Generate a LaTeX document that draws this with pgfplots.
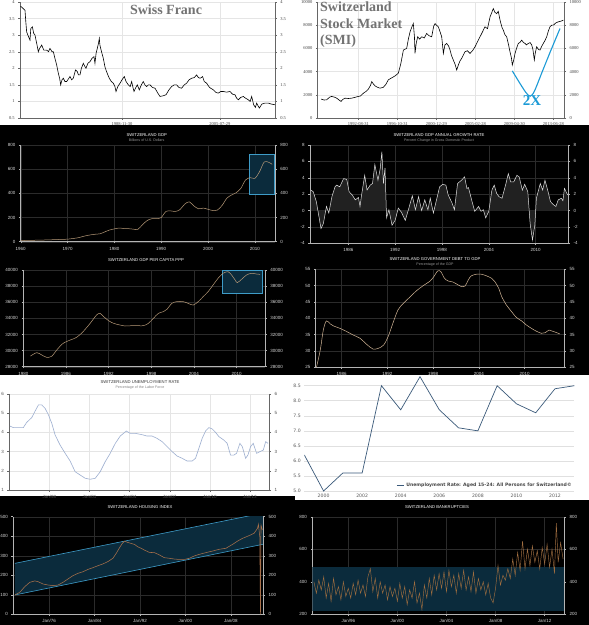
\documentclass[border=0pt]{standalone}
\usepackage{pgfplots}
\usepackage{pgfplotstable}
\pgfplotsset{compat=1.18}
\usepackage{fontspec}
\setmainfont{Liberation Sans}
\newfontfamily\serifx{Liberation Serif}
\newfontfamily\dejavu{DejaVu Sans}

\definecolor{gridd}{HTML}{2B2B2B}
\definecolor{axd}{HTML}{B4B4B4}
\definecolor{tanl}{HTML}{B89A78}
\definecolor{debtl}{HTML}{D4B898}
\definecolor{boxfill}{HTML}{0B2B3C}
\definecolor{boxline}{HTML}{3E9CC8}
\definecolor{smiblue}{HTML}{1B9AD6}
\definecolor{unemp}{HTML}{9DAFD0}
\definecolor{youth}{HTML}{3B5A7A}
\definecolor{housing}{HTML}{A8704A}
\definecolor{bankr}{HTML}{A06E40}

\pgfplotsset{
 base/.style={scale only axis, anchor=south west,
   /pgf/number format/assume math mode=true, /pgf/number format/1000 sep={},
   tick align=outside, major tick length=1.8pt, clip=true,
   axis x line*=bottom, axis y line*=left, scaled ticks=false},
 dark/.style={base, axis line style={draw=axd, line width=0.5pt},
   tick style={draw=axd, line width=0.4pt},
   xmajorgrids, ymajorgrids, grid style={draw=gridd, line width=0.35pt},
   ticklabel style={font=\fontsize{4.5}{5}\selectfont, text=white!85!black}},
 darkR/.style={dark, hide x axis, axis y line*=right, xmajorgrids=false, ymajorgrids=false},
 light/.style={base, axis line style={draw=black!60, line width=0.5pt},
   tick style={draw=black!60, line width=0.4pt},
   xmajorgrids, ymajorgrids, grid style={draw=black!10, line width=0.35pt},
   ticklabel style={font=\serifx\fontsize{4.5}{5}\selectfont, text=black!75}},
 lightR/.style={light, hide x axis, axis y line*=right, xmajorgrids=false, ymajorgrids=false},
}

% ---------- Swiss franc (USD/CHF) ----------
\pgfplotstableread{
x y
1971.67 3.87
1972.0 3.82
1972.41 3.75
1972.55 3.4
1972.69 3.1
1972.9 3.0
1973.26 2.85
1973.4 3.2
1973.66 3.25
1973.9 3.05
1974.11 3.0
1974.4 2.75
1974.68 2.5
1974.9 2.6
1975.25 2.7
1975.6 2.55
1976.10 2.55
1976.4 2.5
1976.66 2.6
1977.0 2.5
1977.23 2.5
1977.5 2.3
1977.80 2.1
1978.08 1.85
1978.3 1.7
1978.48 1.5
1978.7 1.65
1978.93 1.7
1979.2 1.6
1979.50 1.6
1979.8 1.68
1980.06 1.75
1980.35 1.65
1980.63 1.7
1981.0 1.95
1981.31 1.9
1981.5 1.8
1981.76 1.8
1982.0 2.0
1982.33 2.15
1982.6 2.05
1982.78 2.0
1983.1 2.15
1983.46 2.2
1983.8 2.3
1984.14 2.35
1984.31 2.15
1984.5 2.45
1984.71 2.6
1984.9 2.75
1985.05 2.9
1985.15 2.7
1985.28 2.6
1985.5 2.45
1985.73 2.3
1986.0 2.05
1986.18 1.95
1986.5 1.8
1986.75 1.7
1987.1 1.6
1987.43 1.55
1987.7 1.45
1987.89 1.3
1988.2 1.45
1988.57 1.55
1988.9 1.65
1989.30 1.75
1989.6 1.6
1989.98 1.5
1990.3 1.45
1990.55 1.6
1990.8 1.4
1990.95 1.3
1991.2 1.4
1991.51 1.5
1991.85 1.35
1992.2 1.5
1992.53 1.6
1992.8 1.5
1993.10 1.45
1993.4 1.5
1993.67 1.5
1994.1 1.42
1994.52 1.4
1995.0 1.25
1995.37 1.15
1995.9 1.17
1996.39 1.2
1996.9 1.35
1997.35 1.45
1997.8 1.5
1998.20 1.5
1998.6 1.42
1999.05 1.4
1999.5 1.5
1999.90 1.55
2000.3 1.65
2000.75 1.7
2001.2 1.72
2001.60 1.8
2001.9 1.72
2002.17 1.7
2002.4 1.72
2002.62 1.75
2002.9 1.6
2003.30 1.55
2003.8 1.42
2004.43 1.35
2004.9 1.27
2005.29 1.25
2005.7 1.3
2006.14 1.3
2006.7 1.28
2007.27 1.3
2007.7 1.22
2008.12 1.2
2008.4 1.1
2008.69 1.05
2009.1 1.12
2009.54 1.15
2009.9 1.1
2010.39 1.05
2010.7 1.0
2010.96 1.15
2011.3 0.9
2011.6 0.82
2011.81 0.95
2012.1 0.85
2012.26 0.8
2012.7 0.92
2013.23 0.95
2013.79 0.95
2014.3 0.92
2014.93 0.9
}\franc

% ---------- SMI ----------
\pgfplotstableread{
x y
1988.68 1630
1989.0 1550
1989.28 1570
1989.6 1800
1989.81 1860
1990.1 1800
1990.35 1710
1990.6 1550
1990.81 1430
1991.0 1600
1991.24 1710
1991.6 1680
1991.95 1710
1992.3 1780
1992.66 1860
1992.9 1900
1993.20 2140
1993.5 2300
1993.73 2490
1993.95 2800
1994.09 3140
1994.25 2950
1994.44 2770
1994.7 2650
1994.97 2570
1995.33 2650
1995.6 2900
1995.86 3290
1996.2 3450
1996.58 3630
1996.93 3860
1997.2 4700
1997.47 5860
1997.82 6000
1998.0 6800
1998.18 7430
1998.4 7900
1998.53 8140
1998.65 7000
1998.71 5570
1998.85 6500
1999.00 7000
1999.2 6800
1999.42 7000
1999.7 6900
1999.96 7290
2000.2 7100
2000.49 7000
2000.7 7900
2000.85 8140
2001.0 8000
2001.20 7860
2001.4 7400
2001.56 7000
2001.74 5570
2001.9 6300
2002.09 6430
2002.3 6200
2002.45 5860
2002.6 5400
2002.80 5000
2003.0 4600
2003.16 4140
2003.34 4570
2003.5 4900
2003.69 5140
2004.05 5710
2004.3 5800
2004.58 5570
2004.85 5800
2005.12 6140
2005.4 6600
2005.65 7000
2005.9 7400
2006.18 7860
2006.45 7700
2006.72 8710
2007.07 9430
2007.25 9100
2007.43 9000
2007.6 9200
2007.79 8430
2008.0 7800
2008.14 7570
2008.3 7200
2008.50 7000
2008.7 6300
2008.85 5710
2009.0 5200
2009.10 4570
2009.25 5000
2009.39 5570
2009.55 6000
2009.74 6430
2009.9 6500
2010.10 6710
2010.3 6500
2010.46 6430
2010.6 6300
2010.81 6430
2011.0 6500
2011.17 6300
2011.3 5900
2011.45 5000
2011.55 5600
2011.70 6140
2011.9 5900
2012.06 5860
2012.25 6200
2012.41 6430
2012.6 6700
2012.77 7000
2012.95 7500
2013.12 7860
2013.3 8000
2013.48 8000
2013.75 8200
2014.01 8290
2014.3 8350
2014.55 8430
}\smi

% ---------- GDP ----------
\pgfplotstableread{
x y
1960 9
1962 11
1965 14
1968 18
1970 21
1972 31
1973 40
1974 50
1975 57
1976 62
1977 66
1978 82
1979 97
1980 106
1981 113
1982 109
1983 108
1984 104
1985 102
1986 140
1987 175
1988 190
1989 190
1990 200
1991 250
1992 255
1993 250
1994 265
1995 310
1996 330
1997 295
1998 272
1999 278
2000 268
2001 258
2002 262
2003 300
2004 359
2005 386
2006 405
2007 441
2008 510
2009 530
2010 524
2011 579
2012 660
2013 656
2013.7 640
}\gdp

% ---------- GDP growth ----------
\pgfplotstableread{
x y
1981.2 2.5
1981.5 2.3
1981.9 1.1
1982.5 -2.2
1982.8 -1.6
1983.2 0.5
1983.5 -0.3
1983.9 1.7
1984.3 2.9
1984.5 3.1
1984.9 2.9
1985.4 3.9
1985.8 3.8
1986.1 2.3
1986.5 1.9
1986.9 1.3
1987.3 1.6
1987.5 0.5
1987.7 1.9
1988.1 4.3
1988.4 2.5
1988.8 3.1
1989.1 3.3
1989.4 5.6
1989.8 3.7
1990.1 5.2
1990.3 7.2
1990.5 3.3
1990.7 5.2
1990.9 -0.9
1991.2 0.1
1991.6 -1.8
1992.0 -1.2
1992.4 0.3
1992.8 -0.2
1993.3 -1.2
1993.7 0.1
1994.2 1.8
1994.6 0.1
1995.0 1.7
1995.4 0.0
1995.8 1.3
1996.2 0.1
1996.5 1.5
1996.9 -0.3
1997.3 1.3
1997.7 2.9
1998.1 3.2
1998.5 3.1
1998.8 1.9
1999.3 0.9
1999.6 0.1
2000.0 3.3
2000.5 3.7
2000.9 4.1
2001.2 2.7
2001.4 2.8
2001.8 1.3
2002.2 -0.1
2002.7 0.5
2003.0 -0.1
2003.3 0.1
2003.6 -0.9
2004.0 -0.1
2004.4 2.5
2004.7 3.1
2005.0 2.1
2005.3 1.7
2005.7 1.5
2006.2 3.3
2006.5 4.5
2006.8 3.5
2007.2 3.5
2007.6 4.3
2007.9 4.1
2008.3 2.5
2008.6 3.2
2009.0 2.3
2009.3 -1.6
2009.6 -3.6
2009.9 -1.8
2010.1 1.5
2010.6 3.3
2010.9 2.5
2011.2 3.7
2011.6 2.3
2011.9 1.1
2012.3 0.7
2012.6 0.5
2012.9 1.3
2013.3 1.5
2013.5 1.2
2013.7 2.7
2014.1 1.9
}\growth

% ---------- GDP per capita PPP ----------
\pgfplotstableread{
x y
1981.0 29320
1981.9 29740
1982.6 29450
1983.3 29160
1984.0 29300
1984.7 30070
1985.6 30900
1986.6 31310
1987.5 31640
1988.4 32340
1989.4 33380
1990.3 34410
1990.8 34620
1991.3 34210
1992.0 33710
1992.7 33380
1993.6 33170
1994.3 33050
1995.2 33090
1996.2 33090
1996.9 33090
1997.6 33380
1998.3 34000
1999.0 34620
1999.7 34830
2000.2 35120
2000.9 35860
2001.6 36070
2002.5 36070
2003.2 35860
2003.9 35650
2004.6 36070
2005.3 36690
2006.0 37310
2006.7 38140
2007.4 38970
2008.1 39590
2008.8 39790
2009.3 39380
2009.8 38760
2010.1 38430
2010.7 38840
2011.4 39380
2012.1 39590
2012.8 39500
2013.3 39460
}\gdppc

% ---------- Debt to GDP ----------
\pgfplotstableread{
x y
1982.7 25.0
1983.2 30.3
1983.6 36.4
1984.0 39.2
1984.5 38.3
1984.9 37.7
1985.8 36.9
1986.7 35.9
1987.5 34.9
1988.4 33.9
1989.3 32.0
1990.1 30.6
1990.8 30.8
1991.5 31.8
1992.1 34.4
1992.8 39.0
1993.4 42.6
1994.1 44.6
1995.0 46.6
1995.8 48.4
1996.7 50.0
1997.6 51.4
1998.1 52.8
1998.6 54.5
1999.0 54.3
1999.5 52.2
2000.0 51.4
2000.6 51.1
2001.3 50.2
2001.7 49.7
2002.2 49.9
2002.6 51.7
2003.0 53.0
2003.7 53.5
2004.3 53.5
2005.0 53.0
2005.7 52.2
2006.1 51.2
2006.6 49.2
2007.0 46.6
2007.6 44.1
2008.3 42.0
2008.9 40.3
2009.6 39.2
2010.2 38.0
2010.9 36.9
2011.5 36.1
2012.2 35.4
2012.7 35.6
2013.2 36.4
2013.6 36.1
2014.2 35.6
2014.6 35.2
}\debt

% ---------- Unemployment ----------
\pgfplotstableread{
x y
1995.05 4.33
1995.3 4.25
1995.55 4.25
1996.05 4.25
1996.3 4.52
1996.68 4.77
1996.93 5.11
1997.18 5.43
1997.43 5.43
1997.68 5.25
1997.93 4.91
1998.18 4.47
1998.43 3.86
1998.8 3.34
1999.18 2.91
1999.55 2.51
1999.93 1.95
2000.3 1.78
2000.68 1.61
2001.05 1.56
2001.43 1.61
2001.8 1.95
2002.18 2.48
2002.55 2.91
2002.93 3.43
2003.3 3.81
2003.75 4.07
2004.05 3.95
2004.43 3.95
2004.8 3.90
2005.05 3.86
2005.3 3.81
2005.68 3.81
2006.05 3.69
2006.43 3.52
2006.8 3.26
2007.18 3.0
2007.55 2.77
2007.93 2.65
2008.3 2.51
2008.68 2.51
2008.93 2.65
2009.18 3.17
2009.43 3.69
2009.68 4.07
2009.93 4.25
2010.18 4.18
2010.43 4.0
2010.68 3.78
2011.05 3.6
2011.3 3.43
2011.55 2.82
2011.8 2.82
2012.0 2.91
2012.25 3.43
2012.43 3.26
2012.68 2.65
2012.85 2.82
2013.05 3.26
2013.25 3.43
2013.5 2.91
2013.75 3.0
2014.0 3.08
2014.18 3.52
2014.35 3.43
}\unemp

% ---------- Youth unemployment ----------
\pgfplotstableread{
x y
1999 6.2
2000 5.0
2001 5.6
2002 5.6
2003 8.5
2004 7.7
2005 8.8
2006 7.7
2007 7.1
2008 7.0
2009 8.5
2010 7.9
2011 7.6
2012 8.4
2013 8.5
}\youthdata

% ---------- Housing index ----------
\pgfplotstableread{
x y
1969.98 99
1970.85 113
1971.73 142
1972.61 164
1973.49 171
1974.07 167
1974.95 155
1975.82 150
1976.70 147
1977.58 150
1978.46 164
1979.33 181
1980.21 198
1981.09 210
1981.96 218
1982.84 230
1983.72 239
1984.60 249
1985.47 258
1986.35 270
1987.23 287
1987.81 312
1988.40 341
1988.87 363
1989.27 375
1989.86 368
1990.44 363
1991.03 358
1991.61 346
1992.20 338
1992.78 329
1993.66 317
1994.54 316
1995.42 304
1996.29 290
1997.17 287
1998.05 283
1998.92 281
1999.80 281
2000.68 287
2001.56 299
2002.43 307
2003.60 316
2004.77 324
2005.94 333
2007.11 338
2008.28 358
2009.16 375
2010.04 389
2011.20 403
2012.08 415
2012.67 440
2012.84 461
2013.08 398
2013.20 0
2013.30 457
2013.54 432
}\housing

% ---------- Bankruptcies ----------
\pgfplotstableread{
x y
1993.2 400
1993.4 330
1993.6 410
1993.8 350
1994.0 430
1994.2 300
1994.4 390
1994.6 280
1994.8 420
1995.0 320
1995.2 370
1995.4 290
1995.6 400
1995.8 310
1996.0 360
1996.2 300
1996.4 390
1996.6 320
1996.8 410
1997.0 330
1997.2 380
1997.4 310
1997.6 430
1997.8 480
1998.0 340
1998.2 420
1998.4 300
1998.6 400
1998.8 330
1999.0 380
1999.2 290
1999.4 370
1999.6 310
1999.8 360
2000.0 280
2000.2 390
2000.4 300
2000.6 370
2000.8 260
2001.0 350
2001.2 300
2001.4 400
2001.6 270
2001.8 330
2002.0 230
2002.2 380
2002.4 300
2002.6 420
2002.8 320
2003.0 440
2003.2 350
2003.4 450
2003.6 360
2003.8 460
2004.0 340
2004.2 470
2004.4 370
2004.6 440
2004.8 330
2005.0 450
2005.2 360
2005.4 470
2005.6 350
2005.8 430
2006.0 340
2006.2 460
2006.4 330
2006.6 420
2006.8 350
2007.0 400
2007.2 320
2007.4 390
2007.6 300
2007.8 270
2008.0 360
2008.2 500
2008.4 380
2008.6 440
2008.8 410
2009.0 480
2009.2 420
2009.4 540
2009.6 440
2009.8 580
2010.0 470
2010.2 650
2010.4 480
2010.6 600
2010.8 500
2011.0 620
2011.2 520
2011.4 590
2011.6 480
2011.8 610
2012.0 510
2012.2 630
2012.4 490
2012.6 600
2012.8 450
2012.95 760
2013.1 520
2013.3 640
2013.5 540
}\bankr

\begin{document}
\begin{tikzpicture}[x=1pt,y=1pt]
% backgrounds
\fill[black] (0,0) rectangle (589,625);
\fill[white] (0,500) rectangle (589,625);
\fill[white] (0,129) rectangle (295,250);
\fill[white] (295,125) rectangle (589,250);

% ===== Row 1 left: Swiss Franc =====
\begin{axis}[light, at={(20pt,507pt)}, width=255pt, height=116pt,
  xticklabel style={yshift=1.2pt},
  xmin=1971.56, xmax=2014.93, ymin=0.5, ymax=4,
  ytick={0.5,1,1.5,2,2.5,3,3.5,4},
  xtick={1988.91,2005.57}, xticklabels={1988-11-30,2005-07-29}]
\addplot[black, line width=0.6pt] table {\franc};
\end{axis}
\begin{axis}[lightR, at={(20pt,507pt)}, width=255pt, height=116pt,
  xmin=1971.56, xmax=2014.93, ymin=0.5, ymax=4,
  ytick={0.5,1,1.5,2,2.5,3,3.5,4}]
\end{axis}
\node[font=\serifx\bfseries\fontsize{14}{14}\selectfont, text=black!55] at (166,615.5) {Swiss Franc};

% ===== Row 1 right: SMI =====
\begin{axis}[light, at={(317.7pt,507pt)}, width=246.6pt, height=116pt,
  xticklabel style={yshift=1.2pt},
  xmin=1988.32, xmax=2014.65, ymin=0, ymax=10000,
  ytick={0,2000,4000,6000,8000,10000},
  xtick={1992.66,1996.83,2000.99,2005.16,2009.33,2013.49},
  xticklabels={1992-08-31,1996-10-31,2000-12-29,2005-02-28,2009-04-30,2013-06-28}]
\addplot[black, line width=0.6pt] table {\smi};
\addplot[smiblue, line width=1.1pt, smooth] coordinates {(2009.10,4060) (2009.9,3000) (2010.55,2200) (2011.0,1880) (2011.45,2300) (2012.3,4000) (2013.2,5800) (2014.19,7710)};
\end{axis}
\begin{axis}[lightR, at={(317.7pt,507pt)}, width=246.6pt, height=116pt,
  xmin=1988.32, xmax=2014.65, ymin=0, ymax=10000,
  ytick={0,2000,4000,6000,8000,10000}]
\end{axis}
\node[anchor=north west, align=left, inner sep=0pt, font=\serifx\bfseries\fontsize{14}{16.5}\selectfont, text=black!55] at (320,623) {Switzerland\\Stock Market\\(SMI)};
\node[font=\serifx\bfseries\fontsize{15}{15}\selectfont, text=smiblue] at (532,524) {2X};

% ===== Row 2 left: GDP =====
\begin{axis}[dark, at={(20.7pt,383.3pt)}, width=254.3pt, height=96.7pt,
  xmin=1960, xmax=2014.3, ymin=0, ymax=800,
  ytick={0,200,400,600,800}, xtick={1960,1970,1980,1990,2000,2010}]
\addplot[fill=boxfill, draw=boxline, line width=0.5pt] coordinates {(2008.8,392) (2014.1,392) (2014.1,723) (2008.8,723)} -- cycle;
\addplot[tanl, line width=0.5pt, smooth] table {\gdp};
\end{axis}
\begin{axis}[darkR, at={(20.7pt,383.3pt)}, width=254.3pt, height=96.7pt,
  xmin=1960, xmax=2014.3, ymin=0, ymax=800, ytick={0,200,400,600,800}]
\end{axis}
\node[font=\fontsize{4.2}{5}\selectfont, text=white] at (146.7,490) {SWITZERLAND GDP};
\node[font=\fontsize{3.6}{4}\selectfont, text=white!60!black] at (146.7,484.5) {Billions of U.S. Dollars};

% ===== Row 2 right: GDP growth =====
\begin{axis}[dark, at={(310pt,381.7pt)}, width=258.3pt, height=98.3pt,
  xmin=1981.09, xmax=2014.19, ymin=-4, ymax=8,
  ytick={-4,-2,0,2,4,6,8}, xtick={1986,1992,1998,2004,2010}]
\addplot[draw=none, fill=white!13!black] table {\growth} \closedcycle;
\addplot[white!88!black, line width=0.5pt] table {\growth};
\end{axis}
\begin{axis}[darkR, at={(310pt,381.7pt)}, width=258.3pt, height=98.3pt,
  xmin=1981.09, xmax=2014.19, ymin=-4, ymax=8, ytick={-4,-2,0,2,4,6,8}]
\end{axis}
\node[font=\fontsize{4.2}{5}\selectfont, text=white] at (439,490) {SWITZERLAND GDP ANNUAL GROWTH RATE};
\node[font=\fontsize{3.6}{4}\selectfont, text=white!60!black] at (439,484.5) {Percent Change in Gross Domestic Product};

% ===== Row 3 left: GDP per capita PPP =====
\begin{axis}[dark, at={(23.3pt,258.3pt)}, width=241.7pt, height=96.7pt,
  xmin=1980, xmax=2014.0, ymin=28000, ymax=40000,
  ytick={28000,30000,32000,34000,36000,38000,40000}, xtick={1980,1986,1992,1998,2004,2010}]
\addplot[fill=boxfill, draw=boxline, line width=0.5pt] coordinates {(2008.04,37100) (2013.66,37100) (2013.66,39960) (2008.04,39960)} -- cycle;
\addplot[tanl, line width=0.5pt, smooth] table {\gdppc};
\end{axis}
\begin{axis}[darkR, at={(23.3pt,258.3pt)}, width=241.7pt, height=96.7pt,
  xmin=1980, xmax=2014.0, ymin=28000, ymax=40000,
  ytick={28000,30000,32000,34000,36000,38000,40000}]
\end{axis}
\node[font=\fontsize{4.2}{5}\selectfont, text=white] at (146,365) {SWITZERLAND GDP PER CAPITA PPP};

% ===== Row 3 right: Debt to GDP =====
\begin{axis}[dark, at={(315.7pt,257.7pt)}, width=248.6pt, height=98pt,
  xmin=1982.6, xmax=2015.2, ymin=25, ymax=55,
  ytick={25,30,35,40,45,50,55}, xtick={1986,1992,1998,2004,2010}]
\addplot[debtl, line width=0.5pt, smooth] table {\debt};
\end{axis}
\begin{axis}[darkR, at={(315.7pt,257.7pt)}, width=248.6pt, height=98pt,
  xmin=1982.6, xmax=2015.2, ymin=25, ymax=55, ytick={25,30,35,40,45,50,55}]
\end{axis}
\node[font=\fontsize{4.2}{5}\selectfont, text=white] at (435,365.7) {SWITZERLAND GOVERNMENT DEBT TO GDP};
\node[font=\fontsize{3.6}{4}\selectfont, text=white!60!black] at (435,360) {Percentage of the GDP};

% ===== Row 4 left: Unemployment =====
\begin{axis}[light, at={(9.3pt,135pt)}, width=260pt, height=96pt,
  ticklabel style={font=\fontsize{4.5}{5}\selectfont, text=black!70},
  xmin=1995.0, xmax=2014.45, ymin=1, ymax=6,
  ytick={1,2,3,4,5,6}, xtick={1998,2001,2004,2007,2010,2013},
  xticklabels={Jan/98,Jan/01,Jan/04,Jan/07,Jan/10,Jan/13}]
\addplot[unemp, line width=0.6pt] table {\unemp};
\end{axis}
\begin{axis}[lightR, at={(9.3pt,135pt)}, width=260pt, height=96pt,
  ticklabel style={font=\fontsize{4.5}{5}\selectfont, text=black!70},
  xmin=1995.0, xmax=2014.45, ymin=1, ymax=6, ytick={1,2,3,4,5,6}]
\end{axis}
\node[font=\fontsize{4.2}{5}\selectfont, text=black!80] at (140,242.7) {SWITZERLAND UNEMPLOYMENT RATE};
\node[font=\fontsize{3.6}{4}\selectfont, text=black!50] at (140,237) {Percentage of the Labor Force};

% ===== Row 4 right: Youth unemployment =====
\begin{axis}[scale only axis, anchor=south west, at={(304.3pt,134pt)}, width=270pt, height=115.8pt,
  /pgf/number format/assume math mode=true, /pgf/number format/1000 sep={},
  xmin=1999, xmax=2013, ymin=5, ymax=8.85,
  axis line style={draw=none}, tick style={draw=none}, major tick length=0pt,
  ytick={5,5.5,6,6.5,7,7.5,8,8.5},
  yticklabel style={/pgf/number format/fixed, /pgf/number format/fixed zerofill, /pgf/number format/precision=1},
  xtick={2000,2002,2004,2006,2008,2010,2012},
  ymajorgrids, grid style={draw=black!12, line width=0.6pt},
  ticklabel style={font=\dejavu\fontsize{4.6}{5}\selectfont, text=black!65},
  legend style={draw=none, fill=none, at={(1,0)}, anchor=south east, inner sep=0.5pt,
    font=\dejavu\bfseries\fontsize{4.6}{5}\selectfont, text=black!72},
  legend image code/.code={\draw[youth, line width=0.7pt] (0pt,0pt) -- (7pt,0pt);}]
\addplot[youth, line width=0.7pt] table {\youthdata};
\addlegendentry{Unemployment Rate: Aged 15-24: All Persons for Switzerland©}
\end{axis}

% ===== Row 5 left: Housing index =====
\begin{axis}[dark, at={(13.3pt,10.7pt)}, width=250pt, height=97.6pt,
  xmin=1969.7, xmax=2013.7, ymin=0, ymax=500,
  ytick={0,100,200,300,400,500}, xtick={1976,1984,1992,2000,2008},
  xticklabels={Jan/76,Jan/84,Jan/92,Jan/00,Jan/08}]
\addplot[fill=boxfill, draw=none] coordinates {(1969.98,99) (2013.7,359) (2013.7,519) (1969.98,261)} -- cycle;
\addplot[boxline, line width=0.6pt] coordinates {(1969.98,99) (2013.7,359)};
\addplot[boxline, line width=0.6pt] coordinates {(1969.98,261) (2013.7,519)};
\addplot[housing, line width=0.55pt] table {\housing};
\end{axis}
\begin{axis}[darkR, at={(13.3pt,10.7pt)}, width=250pt, height=97.6pt,
  xmin=1969.7, xmax=2013.7, ymin=0, ymax=500, ytick={0,100,200,300,400,500}]
\end{axis}
\node[font=\fontsize{4.2}{5}\selectfont, text=white] at (140,118) {SWITZERLAND HOUSING INDEX};

% ===== Row 5 right: Bankruptcies =====
\begin{axis}[dark, at={(312.3pt,10.7pt)}, width=252pt, height=97.6pt,
  xmin=1993.07, xmax=2013.6, ymin=200, ymax=800,
  ytick={200,400,600,800}, xtick={1996,2000,2004,2008,2012},
  xticklabels={Jan/96,Jan/00,Jan/04,Jan/08,Jan/12}]
\addplot[fill=boxfill, draw=none] coordinates {(1993.07,220) (2013.6,220) (2013.6,493) (1993.07,493)} -- cycle;
\addplot[bankr, line width=0.45pt] table {\bankr};
\end{axis}
\begin{axis}[darkR, at={(312.3pt,10.7pt)}, width=252pt, height=97.6pt,
  xmin=1993.07, xmax=2013.6, ymin=200, ymax=800, ytick={200,400,600,800}]
\end{axis}
\node[font=\fontsize{4.2}{5}\selectfont, text=white] at (437,118) {SWITZERLAND BANKRUPTCIES};

\pgfresetboundingbox
\path[use as bounding box] (0,0) rectangle (589,625);
\end{tikzpicture}
\end{document}
